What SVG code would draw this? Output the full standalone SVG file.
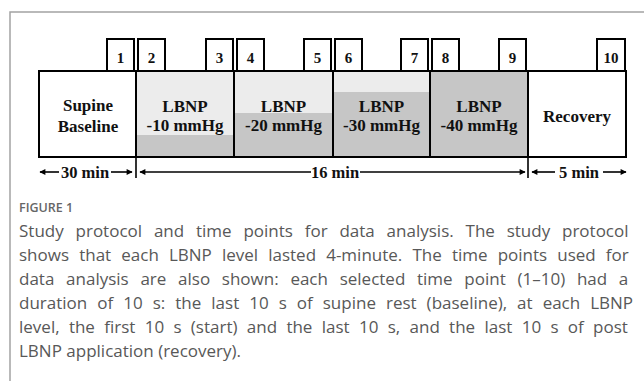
<svg xmlns="http://www.w3.org/2000/svg" width="644" height="381" viewBox="0 0 644 381">
<style>
.frame{stroke:#a3a3a3;stroke-width:1.5;fill:none}
.box{stroke:#000;stroke-width:2;fill:none}
.light{fill:#ececec}
.dark{fill:#c6c6c6}
.lbl{font-family:"Liberation Serif",serif;font-weight:bold;font-size:17px;fill:#111;text-anchor:middle}
.num{font-family:"Liberation Serif",serif;font-weight:bold;font-size:15px;fill:#111;text-anchor:middle}
.dur{font-family:"Liberation Serif",serif;font-weight:bold;font-size:16.5px;fill:#111;text-anchor:middle}
.ln{stroke:#000;stroke-width:1.6;fill:none}
.tick{stroke:#000;stroke-width:1.6}
.fig{font-family:"Open Sans","Liberation Sans",sans-serif;font-size:12.5px;font-weight:600;fill:#666}
.cap{font-family:"Open Sans","Liberation Sans",sans-serif;font-size:17px;fill:#585858}
</style>
<defs>
<marker id="ah" viewBox="0 0 10 10" refX="9" refY="5" markerWidth="7" markerHeight="6" markerUnits="userSpaceOnUse" orient="auto">
<path d="M0,0 L10,5 L0,10 z" fill="#000"/>
</marker>
</defs>
<path class="frame" d="M10,381 V12 H644"/>
<g id="supine">
<rect x="39" y="71" width="97" height="86" fill="#fff"/>
<rect class="box" x="39" y="71" width="97" height="86"/>
<text class="lbl" x="88" y="111">Supine</text>
<text class="lbl" x="88" y="132">Baseline</text>
</g>
<g id="lbnp10">
<rect class="light" x="136" y="71" width="98" height="64"/>
<rect class="dark" x="136" y="135" width="98" height="22"/>
<rect class="box" x="136" y="71" width="98" height="86"/>
<text class="lbl" x="185" y="112">LBNP</text>
<text class="lbl" x="185" y="131">-10 mmHg</text>
</g>
<g id="lbnp20">
<rect class="light" x="234" y="71" width="99" height="42"/>
<rect class="dark" x="234" y="113" width="99" height="44"/>
<rect class="box" x="234" y="71" width="99" height="86"/>
<text class="lbl" x="283.5" y="112">LBNP</text>
<text class="lbl" x="283.5" y="131">-20 mmHg</text>
</g>
<g id="lbnp30">
<rect class="light" x="333" y="71" width="97" height="21"/>
<rect class="dark" x="333" y="92" width="97" height="65"/>
<rect class="box" x="333" y="71" width="97" height="86"/>
<text class="lbl" x="381.5" y="112">LBNP</text>
<text class="lbl" x="381.5" y="131">-30 mmHg</text>
</g>
<g id="lbnp40">
<rect class="dark" x="430" y="71" width="98" height="86"/>
<rect class="box" x="430" y="71" width="98" height="86"/>
<text class="lbl" x="479" y="112">LBNP</text>
<text class="lbl" x="479" y="131">-40 mmHg</text>
</g>
<g id="recovery">
<rect x="528" y="71" width="98" height="86" fill="#fff"/>
<rect class="box" x="528" y="71" width="98" height="86"/>
<text class="lbl" x="577" y="122">Recovery</text>
</g>
<g id="tp1"><rect class="box" x="107" y="39" width="27" height="32"/><text class="num" x="120.5" y="63">1</text></g>
<g id="tp2"><rect class="box" x="138" y="39" width="27" height="32"/><text class="num" x="151.5" y="63">2</text></g>
<g id="tp3"><rect class="box" x="206" y="39" width="27" height="32"/><text class="num" x="219.5" y="63">3</text></g>
<g id="tp4"><rect class="box" x="237" y="39" width="27" height="32"/><text class="num" x="250.5" y="63">4</text></g>
<g id="tp5"><rect class="box" x="304" y="39" width="27" height="32"/><text class="num" x="317.5" y="63">5</text></g>
<g id="tp6"><rect class="box" x="335" y="39" width="27" height="32"/><text class="num" x="348.5" y="63">6</text></g>
<g id="tp7"><rect class="box" x="401" y="39" width="27" height="32"/><text class="num" x="414.5" y="63">7</text></g>
<g id="tp8"><rect class="box" x="432" y="39" width="27" height="32"/><text class="num" x="445.5" y="63">8</text></g>
<g id="tp9"><rect class="box" x="499" y="39" width="27" height="32"/><text class="num" x="512.5" y="63">9</text></g>
<g id="tp10"><rect class="box" x="597" y="39" width="28" height="32"/><text class="num" x="611" y="63">10</text></g>
<g id="connectors">
<line class="tick" x1="136" y1="157" x2="136" y2="178"/>
<line class="tick" x1="528" y1="157" x2="528" y2="178"/>
<line class="ln" x1="59" y1="172" x2="40" y2="172" marker-end="url(#ah)"/>
<line class="ln" x1="111" y1="172" x2="132" y2="172" marker-end="url(#ah)"/>
<line class="ln" x1="311" y1="172" x2="140" y2="172" marker-end="url(#ah)"/>
<line class="ln" x1="360" y1="172" x2="525" y2="172" marker-end="url(#ah)"/>
<line class="ln" x1="555" y1="172" x2="532" y2="172" marker-end="url(#ah)"/>
<line class="ln" x1="603" y1="172" x2="626" y2="172" marker-end="url(#ah)"/>
</g>
<text class="dur" x="85" y="178">30 min</text>
<text class="dur" x="335" y="178">16 min</text>
<text class="dur" x="579" y="178">5 min</text>
<text class="fig" x="19" y="212">FIGURE 1</text>
<text class="cap" x="19" y="237" word-spacing="7.4">Study protocol and time points for data analysis. The study protocol</text>
<text class="cap" x="19" y="261" word-spacing="5.7">shows that each LBNP level lasted 4-minute. The time points used for</text>
<text class="cap" x="19" y="285" word-spacing="7.3">data analysis are also shown: each selected time point (1–10) had a</text>
<text class="cap" x="19" y="309" word-spacing="5.6">duration of 10 s: the last 10 s of supine rest (baseline), at each LBNP</text>
<text class="cap" x="19" y="333" word-spacing="4.9">level, the first 10 s (start) and the last 10 s, and the last 10 s of post</text>
<text class="cap" x="19" y="357">LBNP application (recovery).</text>
</svg>
